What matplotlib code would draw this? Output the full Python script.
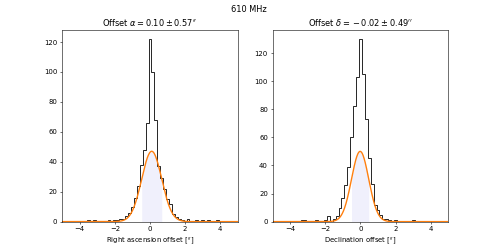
import numpy as np
import matplotlib
matplotlib.use('Agg')
from matplotlib import pyplot as plt

# histogram bins: width 1/6 arcsec, centred on k/6 for k = -30..30
bin_edges = (np.arange(-30, 32) - 0.5) / 6.0

# right ascension offsets: bin index (k) and counts
ra_bin_idx = [-21, -19, -14, -12, -11, -10, -9, -8, -7, -6, -5, -4, -3, -2, -1,
              0, 1, 2, 3, 4, 5, 6, 7, 8, 9, 10, 11, 13, 16, 18, 20, 23]
ra_counts = [1, 1, 1, 1, 1, 2, 2, 4, 6, 10, 16, 24, 38, 48, 66,
             122, 100, 68, 37, 29, 22, 15, 12, 5, 3, 2, 1, 2, 1, 1, 1, 1]
ra_amp, ra_mean, ra_sigma = 47.0, 0.10, 0.57

# declination offsets
dec_bin_idx = [-20, -19, -15, -12, -11, -9, -8, -7, -6, -5, -4, -3, -2, -1,
               0, 1, 2, 3, 4, 5, 6, 7, 8, 9, 10, 12, 18]
dec_counts = [1, 1, 1, 1, 4, 2, 4, 10, 17, 26, 39, 60, 82, 103,
              130, 105, 73, 45, 27, 12, 8, 5, 2, 2, 1, 1, 1]
dec_amp, dec_mean, dec_sigma = 50.0, -0.02, 0.49


def fullCounts(idx, vals):
    counts = np.zeros(len(bin_edges) - 1)
    for k, v in zip(idx, vals):
        counts[k + 30] = v
    return counts


def gauss(x, a, mu, s):
    return a * np.exp(-0.5 * ((x - mu) / s) ** 2)


def drawPanel(ax, counts, amp, mean, sigma, symbol, xlabel):
    x = np.linspace(-5, 5, 500)
    xs = np.linspace(mean - sigma, mean + sigma, 200)
    ax.fill_between(xs, 0, gauss(xs, amp, mean, sigma), color='lavender',
                    alpha=0.6, lw=0)
    ax.stairs(counts, bin_edges, color='k', lw=1.2)
    ax.plot(x, gauss(x, amp, mean, sigma), color='C1', lw=2)
    ax.set_xlim(-5, 5)
    ax.set_ylim(0, counts.max() * 1.05)
    meanStr = '%.2f' % mean if mean >= 0 else '{} - %.2f' % abs(mean)
    ax.set_title(r'Offset $%s = %s \pm %.2f^{\prime\prime}$' % (symbol, meanStr, sigma))
    ax.set_xlabel(xlabel + r' [$^{\prime\prime}$]')


fig, (axRa, axDec) = plt.subplots(1, 2, figsize=(10, 5), dpi=49.8)
drawPanel(axRa, fullCounts(ra_bin_idx, ra_counts), ra_amp, ra_mean, ra_sigma,
          r'\alpha', 'Right ascension offset')
drawPanel(axDec, fullCounts(dec_bin_idx, dec_counts), dec_amp, dec_mean, dec_sigma,
          r'\delta', 'Declination offset')
fig.suptitle('610 MHz')
fig.savefig('out.png', dpi=49.8)
